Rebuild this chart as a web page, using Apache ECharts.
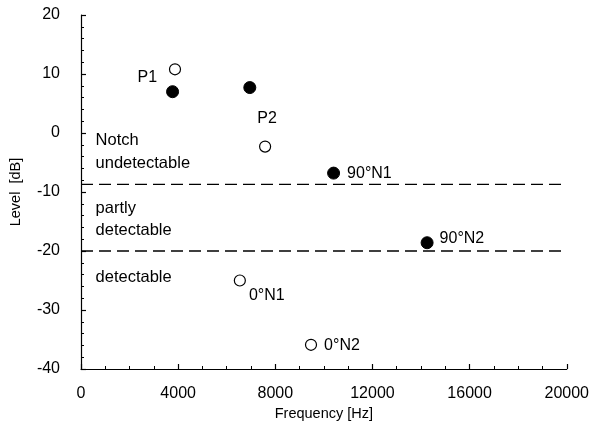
<!DOCTYPE html>
<html>
<head>
<meta charset="utf-8">
<script src="https://cdn.jsdelivr.net/npm/echarts@6/dist/echarts.min.js"></script>
<style>
  html, body { margin: 0; padding: 0; background: #fff; }
  #chart { width: 592px; height: 430px; }
</style>
</head>
<body>
<div id="chart"></div>
<script>
// Filled markers: [frequency Hz, level dB, label]
const filledPoints = [
  [3770, 7.0, 'P1'],
  [6950, 7.7, ''],
  [10400, -6.8, '90°N1'],
  [14250, -18.6, '90°N2']
];
// Open markers: [frequency Hz, level dB, label]
const openPoints = [
  [3870, 10.8, ''],
  [7580, -2.3, 'P2'],
  [6540, -25.0, '0°N1'],
  [9470, -35.9, '0°N2']
];
// Detectability thresholds (dB)
const thresholds = [-8.7, -20];
// Zone captions: [frequency, level, text]
const zoneTexts = [
  [600, -1.2, 'Notch'],
  [600, -5.1, 'undetectable'],
  [600, -12.8, 'partly'],
  [600, -16.6, 'detectable'],
  [600, -24.4, 'detectable']
];
const xTicks = [0, 4000, 8000, 12000, 16000, 20000];
const yTicks = [-40, -30, -20, -10, 0, 10, 20];

const FONT = 'Liberation Sans';
const INK = '#000';

// per-point label placement
const labelStyles = {
  'P1':    { position: 'left',  distance: 9, offset: [0, -14] },
  '90°N1': { position: 'right', distance: 7, offset: [0, 0] },
  '90°N2': { position: 'right', distance: 6, offset: [0, -4] },
  'P2':    { position: 'top',   distance: 14, offset: [2, 0] },
  '0°N1':  { position: 'right', distance: 3, offset: [0, 15] },
  '0°N2':  { position: 'right', distance: 7, offset: [0, 1] }
};

function toData(points) {
  return points.map(p => {
    const d = { value: [p[0], p[1]] };
    if (p[2]) {
      const s = labelStyles[p[2]];
      d.label = {
        show: true, formatter: p[2], position: s.position,
        distance: s.distance, offset: s.offset,
        fontFamily: FONT, fontSize: 16, color: INK
      };
    }
    return d;
  });
}

const chart = echarts.init(document.getElementById('chart'));
chart.setOption({
  animation: false,
  backgroundColor: '#fff',
  grid: { left: 81, right: 25, top: 15, bottom: 61 },
  xAxis: {
    type: 'value', min: xTicks[0], max: xTicks[xTicks.length - 1], interval: 4000,
    name: 'Frequency [Hz]', nameLocation: 'middle', nameGap: 34,
    nameTextStyle: { fontFamily: FONT, fontSize: 14.5, color: INK },
    axisLine: { onZero: false, lineStyle: { color: INK, width: 1.2 } },
    axisTick: { inside: true, length: 5, lineStyle: { color: INK, width: 1.2 } },
    minorTick: { show: true, splitNumber: 4, length: 3, lineStyle: { color: INK, width: 1 } },
    axisLabel: { margin: 17, fontFamily: FONT, fontSize: 16, color: INK,
                 formatter: v => String(v) },
    splitLine: { show: false }
  },
  yAxis: {
    type: 'value', min: yTicks[0], max: yTicks[yTicks.length - 1], interval: 10,
    name: 'Level  [dB]', nameLocation: 'middle', nameGap: 58, nameRotate: 90,
    nameTextStyle: { fontFamily: FONT, fontSize: 14.5, color: INK },
    axisLine: { show: true, lineStyle: { color: INK, width: 1.2 } },
    axisTick: { show: true, inside: true, length: 5, lineStyle: { color: INK, width: 1.2 } },
    minorTick: { show: true, splitNumber: 5, length: 3, lineStyle: { color: INK, width: 1 } },
    axisLabel: { margin: 21, fontFamily: FONT, fontSize: 16, color: INK,
                 formatter: v => String(v) },
    splitLine: { show: false }
  },
  series: [
    ...thresholds.map(t => ({
      type: 'line', silent: true, symbol: 'none',
      data: [[xTicks[0], t], [xTicks[xTicks.length - 1], t]],
      lineStyle: { color: INK, width: 1.4, type: [12, 6], opacity: 1 }
    })),
    {
      type: 'scatter', silent: true, symbolSize: 0,
      itemStyle: { opacity: 1 },
      data: zoneTexts.map(z => ({
        value: [z[0], z[1]],
        label: { show: true, formatter: z[2], position: 'right', distance: 0,
                 fontFamily: FONT, fontSize: 16.5, color: INK, opacity: 1 }
      }))
    },
    {
      type: 'scatter', symbol: 'circle', symbolSize: 12,
      itemStyle: { color: '#000', borderColor: '#000', borderWidth: 1, opacity: 1 },
      data: toData(filledPoints)
    },
    {
      type: 'scatter', symbol: 'circle', symbolSize: 11,
      itemStyle: { color: '#fff', borderColor: '#000', borderWidth: 1.2, opacity: 1 },
      data: toData(openPoints)
    }
  ]
});
</script>
</body>
</html>
